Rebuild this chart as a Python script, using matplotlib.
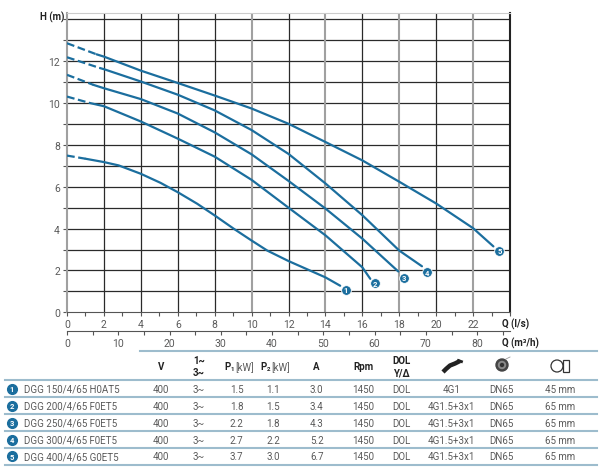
import numpy as np
import matplotlib.pyplot as plt
from matplotlib.ticker import MultipleLocator
from matplotlib.patches import Circle, Rectangle

plt.rcParams['font.family'] = ['Roboto', 'DejaVu Sans']

# pump curves, Q (l/s) vs H (m): dashed start and solid part
dash_q = [[0, 1.0], [0, 1.25], [0, 1.43], [0, 1.8], [0, 1.6]]
dash_h = [[7.49, 7.34], [10.31, 10.0], [11.35, 10.87], [12.19, 11.67], [12.86, 12.33]]

q1 = [1.0, 2, 2.8, 4, 5.06, 6, 7.05, 8, 9.04, 10, 10.85, 12, 14, 14.8]
h1 = [7.34, 7.18, 7.02, 6.62, 6.19, 5.74, 5.19, 4.63, 3.99, 3.43, 2.95, 2.45, 1.67, 1.27]
q2 = [1.25, 2, 4, 6, 8, 10, 12, 14, 16, 16.43]
h2 = [10.0, 9.85, 9.12, 8.3, 7.44, 6.33, 5.0, 3.68, 2.15, 1.6]
q3 = [1.43, 2, 4, 6, 8, 10, 12, 14, 16, 17.95]
h3 = [10.87, 10.71, 10.19, 9.5, 8.6, 7.55, 6.28, 4.96, 3.52, 1.95]
q4 = [1.8, 2, 4, 6, 8, 10, 12, 14, 16, 18, 19.23]
h4 = [11.67, 11.62, 11.03, 10.4, 9.65, 8.71, 7.57, 6.16, 4.64, 2.95, 2.2]
q5 = [1.6, 2, 4, 6, 8, 10, 12, 14, 16, 18, 20, 22, 23.1]
h5 = [12.33, 12.22, 11.55, 10.96, 10.36, 9.74, 9.01, 8.14, 7.26, 6.24, 5.2, 4.02, 3.15]

curve_q = [q1, q2, q3, q4, q5]
curve_h = [h1, h2, h3, h4, h5]

# numbered end markers
mark_q = [15.1, 16.7, 18.24, 19.5, 23.43]
mark_h = [1.08, 1.38, 1.64, 1.91, 2.95]

# table
models = ['DGG 150/4/65 H0AT5', 'DGG 200/4/65 F0ET5', 'DGG 250/4/65 F0ET5',
          'DGG 300/4/65 F0ET5', 'DGG 400/4/65 G0ET5']
volts = ['400', '400', '400', '400', '400']
phase = ['3~', '3~', '3~', '3~', '3~']
p1 = ['1.5', '1.8', '2.2', '2.7', '3.7']
p2 = ['1.1', '1.5', '1.8', '2.2', '3.0']
amps = ['3.0', '3.4', '4.3', '5.2', '6.7']
rpm = ['1450', '1450', '1450', '1450', '1450']
start = ['DOL', 'DOL', 'DOL', 'DOL', 'DOL']
cable = ['4G1', '4G1.5+3x1', '4G1.5+3x1', '4G1.5+3x1', '4G1.5+3x1']
outlet = ['DN65', 'DN65', 'DN65', 'DN65', 'DN65']
passage = ['45 mm', '65 mm', '65 mm', '65 mm', '65 mm']

BLUE = '#1b6e9e'
TXT = '#5a5a5a'
W, H = 600, 477

fig = plt.figure(figsize=(6, 4.77), dpi=100)
ax = fig.add_axes([67 / W, 1 - 313.3 / H, 443 / W, 299.2 / H])
ax.set_xlim(0, 24)
ax.set_ylim(0, 14.3)

# grid
for y in range(1, 15):
    ax.axhline(y, color='#2a2a2a', lw=0.9, zorder=1)
for x in range(2, 24, 2):
    if x in (10, 14, 18, 22):
        ax.axvline(x, color='#a0a0a0', lw=1.5, zorder=1)
    else:
        ax.axvline(x, color='#2a2a2a', lw=0.9, zorder=1)

for i in range(5):
    ax.plot(dash_q[i], dash_h[i], color=BLUE, lw=1.6, dashes=(3.5, 1.6), zorder=3)
    ax.plot(curve_q[i], curve_h[i], color=BLUE, lw=1.6, zorder=3,
            solid_capstyle='round', solid_joinstyle='round')
    ax.plot(mark_q[i], mark_h[i], 'o', ms=7, color=BLUE, mec='white',
            mew=0.6, zorder=4)
    ax.text(mark_q[i], mark_h[i], str(i + 1), color='white', fontsize=5.5,
            fontweight='bold', ha='center', va='center', zorder=5)

ax.spines['top'].set_color('#cccccc')
ax.spines['right'].set_color('#222222')
ax.spines['right'].set_linewidth(1.5)
ax.spines['left'].set_color('#a0a0a0')
ax.spines['left'].set_linewidth(1.5)
ax.spines['bottom'].set_color('#555555')

ax.set_xticks(range(0, 23, 2))
ax.xaxis.set_minor_locator(MultipleLocator(1))
ax.set_yticks(range(0, 13, 2))
ax.yaxis.set_minor_locator(MultipleLocator(1))
ax.tick_params(which='both', direction='out', length=3, width=0.8, color='#555555',
               labelsize=7.5, labelcolor=TXT, pad=2)

sec = ax.secondary_xaxis(-0.0635, functions=(lambda q: q * 3.6, lambda m: m / 3.6))
sec.set_xticks(range(0, 81, 10))
sec.xaxis.set_minor_locator(MultipleLocator(5))
sec.tick_params(which='both', direction='out', length=3, width=0.8, color='#555555',
                labelsize=7.5, labelcolor=TXT, pad=2)
sec.spines['bottom'].set_color('#555555')

fig.text(40 / W, 1 - 17 / H, 'H (m)', fontsize=7, fontweight='bold', color='#222222',
         va='center')
fig.text(502 / W, 1 - 324 / H, 'Q (l/s)', fontsize=7, fontweight='bold', color='#222222',
         va='center')
fig.text(502 / W, 1 - 343.5 / H, 'Q (m³/h)', fontsize=7, fontweight='bold',
         color='#222222', va='center')

# table overlay in pixel coordinates
tab = fig.add_axes([0, 0, 1, 1])
tab.set_xlim(0, W)
tab.set_ylim(H, 0)
tab.axis('off')

LINE = '#9dbccd'
tab.plot([140, 597], [352.3, 352.3], color=LINE, lw=1.5)
row_lines = [381, 398.3, 415, 432.3, 449, 465.7]
for y in row_lines:
    tab.plot([5, 597], [y, y], color=LINE, lw=1.5)

col_x = [160.7, 199, 236.7, 273, 316.7, 363.3, 401.7, 451.7, 501.7, 560]
hdr = dict(fontsize=7, fontweight='bold', color='#222222', ha='center', va='center')
tab.text(col_x[0], 367.5, 'V', **hdr)
tab.text(col_x[1], 360.7, '1~', **hdr)
tab.text(col_x[1], 373.3, '3~', **hdr)
for cx, sub in [(col_x[2], '1'), (col_x[3], '2')]:
    tab.text(cx - 6, 367.5, 'P', fontsize=7, fontweight='bold', color='#222222',
             ha='right', va='center')
    tab.text(cx - 6, 369.5, sub, fontsize=4.5, fontweight='bold', color='#222222',
             ha='left', va='center')
    tab.text(cx - 1.5, 367.5, '[kW]', fontsize=7, color=TXT, ha='left', va='center')
tab.text(col_x[4], 367.5, 'A', **hdr)
tab.text(col_x[5], 367.5, 'Rpm', **hdr)
tab.text(col_x[6], 360.7, 'DOL', **hdr)
tab.text(col_x[6], 373.3, 'Y/Δ', **hdr)

# header icons
hx = np.array([443, 446, 450, 455, 460])
hy = np.array([373, 370, 366.5, 364.5, 362])
tab.plot(hx, hy, color='#222222', lw=3.2, solid_capstyle='butt')
tab.plot([458.5, 461.5], [361.5, 362.6], color='#222222', lw=2)
tab.add_patch(Circle((502, 366), 6, color='#444444'))
tab.add_patch(Circle((502, 366), 3.5, color='#8a8a8a'))
tab.add_patch(Circle((502, 366), 1.5, color='#333333'))
tab.plot([506, 510], [360, 358], color='#999999', lw=0.6)
tab.add_patch(Circle((557, 367), 6, fill=False, ec='#333333', lw=0.9))
tab.add_patch(Rectangle((563, 361), 6, 12, fill=False, ec='#333333', lw=0.9))

row_y = [389.6, 406.6, 423.6, 440.6, 457.3]
cols = [volts, phase, p1, p2, amps, rpm, start, cable, outlet, passage]
for r in range(5):
    y = row_y[r]
    tab.plot(11.7, y, 'o', ms=7, color=BLUE)
    tab.text(11.7, y, str(r + 1), color='white', fontsize=5.5, fontweight='bold',
             ha='center', va='center')
    tab.text(23.5, y, models[r], fontsize=7, color=TXT, ha='left', va='center')
    for cx, col in zip(col_x, cols):
        tab.text(cx, y, col[r], fontsize=7, color=TXT, ha='center', va='center')

fig.savefig('out.png', dpi=100)
